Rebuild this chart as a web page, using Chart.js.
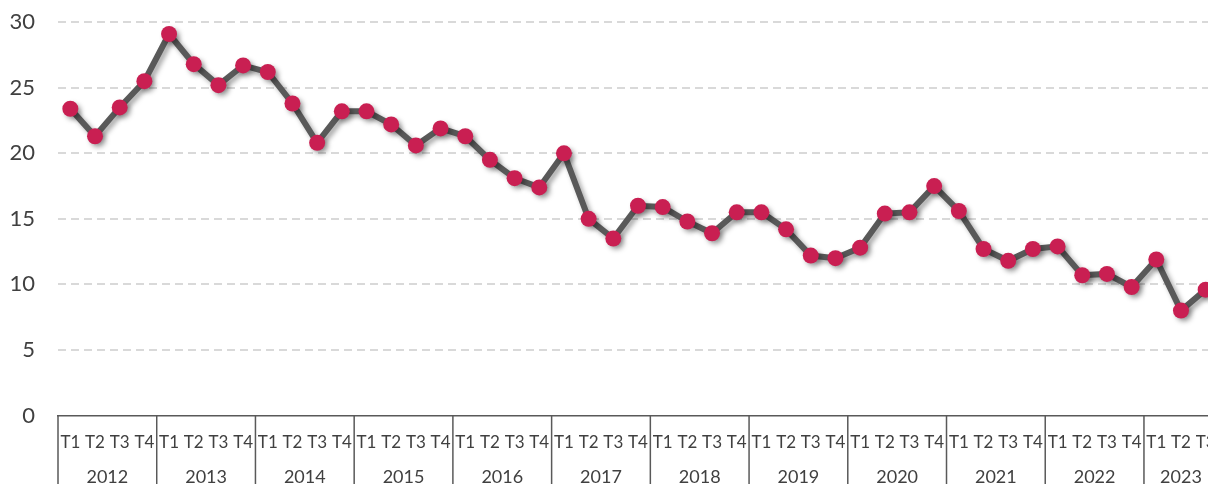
<!DOCTYPE html>
<html>
<head>
<meta charset="utf-8">
<script src="https://cdn.jsdelivr.net/npm/chart.js@4.4.1/dist/chart.umd.min.js"></script>
<style>
  html, body { margin: 0; padding: 0; background: #fff; overflow: hidden; }
  #wrap { position: absolute; left: 0; top: -14px; width: 1230px; height: 514px; }
</style>
</head>
<body>
<div id="wrap"><canvas id="chart" width="1230" height="514"></canvas></div>
<script>
// Data
const years = ['2012', '2013', '2014', '2015', '2016', '2017', '2018', '2019', '2020', '2021', '2022', '2023'];
const quarterNames = ['T1', 'T2', 'T3', 'T4'];
const quarterLabels = [
  'T1', 'T2', 'T3', 'T4', 'T1', 'T2', 'T3', 'T4', 'T1', 'T2', 'T3', 'T4',
  'T1', 'T2', 'T3', 'T4', 'T1', 'T2', 'T3', 'T4', 'T1', 'T2', 'T3', 'T4',
  'T1', 'T2', 'T3', 'T4', 'T1', 'T2', 'T3', 'T4', 'T1', 'T2', 'T3', 'T4',
  'T1', 'T2', 'T3', 'T4', 'T1', 'T2', 'T3', 'T4', 'T1', 'T2', 'T3'
];
const values = [
  23.4, 21.3, 23.5, 25.5,   // 2012
  29.1, 26.8, 25.2, 26.7,   // 2013
  26.2, 23.8, 20.8, 23.2,   // 2014
  23.2, 22.2, 20.6, 21.9,   // 2015
  21.3, 19.5, 18.1, 17.4,   // 2016
  20.0, 15.0, 13.5, 16.0,   // 2017
  15.9, 14.8, 13.9, 15.5,   // 2018
  15.5, 14.2, 12.2, 12.0,   // 2019
  12.8, 15.4, 15.5, 17.5,   // 2020
  15.6, 12.7, 11.8, 12.7,   // 2021
  12.9, 10.7, 10.8, 9.8,    // 2022
  11.9, 8.0, 9.6            // 2023
];
const yTicks = [0, 5, 10, 15, 20, 25, 30];

const FONT = "Lato, 'DejaVu Sans', sans-serif";
const AXIS_COLOR = '#595959';

// drop shadow under the line and the markers
const shadowPlugin = {
  id: 'shadow',
  beforeDatasetDraw(chart) {
    const ctx = chart.ctx;
    ctx.save();
    ctx.shadowColor = 'rgba(0,0,0,0.35)';
    ctx.shadowBlur = 5;
    ctx.shadowOffsetX = 3;
    ctx.shadowOffsetY = 3;
  },
  afterDatasetDraw(chart) {
    chart.ctx.restore();
  }
};

// year row + separators under the quarter labels
const yearAxisPlugin = {
  id: 'yearAxis',
  afterDraw(chart) {
    const ctx = chart.ctx;
    const x = chart.scales.x;
    const top = chart.chartArea.bottom;
    const bottom = chart.height;
    ctx.save();
    ctx.strokeStyle = AXIS_COLOR;
    ctx.lineWidth = 1.5;
    ctx.fillStyle = '#404040';
    ctx.font = '18px ' + FONT;
    ctx.textAlign = 'center';
    ctx.textBaseline = 'middle';
    years.forEach((yr, i) => {
      const first = i * quarterNames.length;
      const last = Math.min(first + quarterNames.length, quarterLabels.length) - 1;
      const left = x.getPixelForValue(first - 0.5);
      ctx.beginPath();
      ctx.moveTo(left, top);
      ctx.lineTo(left, bottom);
      ctx.stroke();
      ctx.fillText(yr, x.getPixelForValue((first + last) / 2), top + 62);
    });
    const end = x.getPixelForValue(quarterLabels.length - 0.5);
    ctx.beginPath();
    ctx.moveTo(end, top);
    ctx.lineTo(end, bottom);
    ctx.stroke();
    ctx.restore();
  }
};

const chart = new Chart(document.getElementById('chart'), {
  type: 'line',
  data: {
    labels: quarterLabels,
    datasets: [{
      data: values,
      borderColor: '#595959',
      borderWidth: 6,
      backgroundColor: '#C91F52',
      pointBackgroundColor: '#C91F52',
      pointBorderWidth: 0,
      pointRadius: 8,
      tension: 0,
      fill: false
    }]
  },
  options: {
    responsive: false,
    animation: false,
    layout: { padding: { top: 6, right: 12, left: 0, bottom: 0 } },
    plugins: {
      legend: { display: false },
      tooltip: { enabled: false }
    },
    scales: {
      x: {
        offset: true,
        grid: { display: false },
        border: { display: true, color: AXIS_COLOR, width: 1.5 },
        ticks: {
          autoSkip: false,
          maxRotation: 0,
          minRotation: 0,
          padding: 9,
          color: '#404040',
          font: { family: FONT, size: 17 }
        },
        afterFit(scale) { scale.height = 84.5; }
      },
      y: {
        min: 0,
        max: 30,
        afterBuildTicks(scale) { scale.ticks = yTicks.map(v => ({ value: v })); },
        grid: {
          color: (c) => c.tick && c.tick.value === 0 ? 'rgba(0,0,0,0)' : '#d9d9d9',
          lineWidth: 2,
          drawTicks: false
        },
        border: { display: false, dash: [8, 5] },
        ticks: {
          padding: 23,
          color: '#404040',
          font: { family: FONT, size: 22 }
        },
        afterFit(scale) { scale.width = 58; }
      }
    }
  },
  plugins: [shadowPlugin, yearAxisPlugin]
});
</script>
</body>
</html>
